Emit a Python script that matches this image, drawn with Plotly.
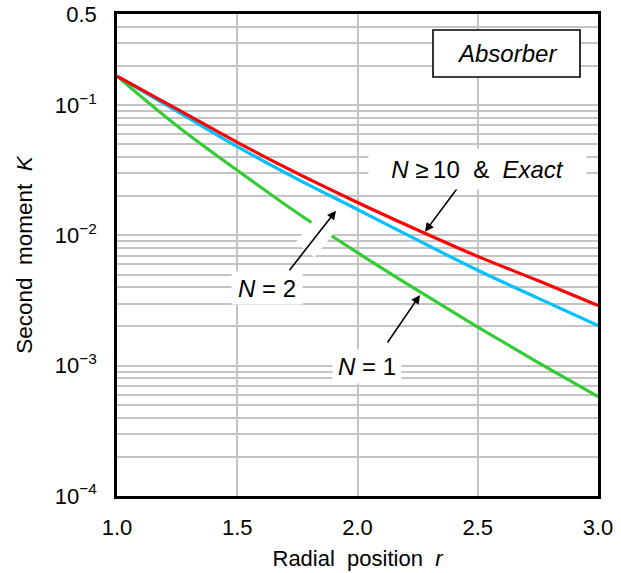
import math
import plotly.graph_objects as go

# ---- data ----
r_vals = [1.0, 1.25, 1.5, 1.75, 2.0, 2.25, 2.5, 2.75, 3.0]
K_exact = [0.1667, 0.0932, 0.0518, 0.0299, 0.0179, 0.0110, 0.0069, 0.0045, 0.0029]
K_n2 = [0.1667, 0.0895, 0.0480, 0.0270, 0.0158, 0.0092, 0.0054, 0.0033, 0.00203]
K_n1 = [0.1667, 0.0692, 0.0316, 0.01485, 0.00737, 0.00378, 0.00198, 0.00106, 0.00058]

x_ticks = [1.0, 1.5, 2.0, 2.5, 3.0]
x_ticktext = ["1.0", "1.5", "2.0", "2.5", "3.0"]
y_major = {1e-4: "10<sup>\u22124</sup>", 1e-3: "10<sup>\u22123</sup>",
           1e-2: "10<sup>\u22122</sup>", 1e-1: "10<sup>\u22121</sup>", 0.5: "0.5"}

FONT = "Liberation Sans, Arial, Helvetica, sans-serif"
FS = 22
FA = 24  # annotation font size

# gridline values at every 1..9 x decade (up to 0.5)
y_tickvals, y_ticktext = [], []
for e in range(-4, 0):
    for m in range(1, 10):
        v = round(m * 10 ** e, 10)
        if v > 0.5 + 1e-12:
            continue
        y_tickvals.append(v)
        y_ticktext.append(y_major.get(v, ""))

# ---- layout geometry (pixels) ----
W, H = 621, 573
L, R, T, B = 117, 598, 14, 496
YTOP = math.log10(0.5)


def to_paper(xp, yp):
    return (xp - L) / (R - L), (B - yp) / (B - T)


def to_data(xp, yp):
    xd = 1.0 + (xp - L) / (R - L) * 2.0
    yd = -4.0 + (B - yp) / (B - T) * (YTOP + 4.0)
    return xd, yd


fig = go.Figure()
fig.add_trace(go.Scatter(x=r_vals, y=K_n1, mode="lines", line=dict(color="#33cc33", width=3.2, shape="spline")))
fig.add_trace(go.Scatter(x=r_vals, y=K_n2, mode="lines", line=dict(color="#00c0ff", width=3.2, shape="spline")))
fig.add_trace(go.Scatter(x=r_vals, y=K_exact, mode="lines", line=dict(color="#ff0000", width=3.2, shape="spline")))

grid = "#c4c4c4"
fig.update_layout(
    width=W, height=H,
    margin=dict(l=L, r=W - R, t=T, b=H - B, autoexpand=False),
    plot_bgcolor="white", paper_bgcolor="white",
    showlegend=False,
    font=dict(family=FONT, size=FS, color="black"),
    xaxis=dict(range=[1, 3], tickvals=x_ticks, ticktext=x_ticktext,
               showgrid=True, gridcolor=grid, gridwidth=1.6, zeroline=False,
               showline=True, linecolor="black", linewidth=2.5, mirror=True,
               ticks="", ticklabelstandoff=10,
               title=dict(text="Radial\u00a0\u00a0position\u00a0\u00a0<i>r</i>", font=dict(size=FS), standoff=12)),
    yaxis=dict(type="log", range=[-4, YTOP], tickvals=y_tickvals, ticktext=y_ticktext,
               showgrid=True, gridcolor=grid, gridwidth=1.6, zeroline=False,
               showline=True, linecolor="black", linewidth=2.5, mirror=True,
               ticks="", ticklabelstandoff=13,
               title=dict(text="Second\u00a0\u00a0moment\u00a0\u00a0<i>K</i>", font=dict(size=FS + 0.5), standoff=16)),
)

# white halo where the N = 2 arrow crosses the N = 1 curve
hx0, hy0 = to_paper(305.3, 250)
hx1, hy1 = to_paper(328.7, 220)
fig.add_shape(type="line", xref="paper", yref="paper", x0=hx0, y0=hy0, x1=hx1, y1=hy1,
              line=dict(color="white", width=24), layer="above")

# Absorber box
bx0, by0 = to_paper(433, 77)
bx1, by1 = to_paper(580, 30)
fig.add_shape(type="rect", xref="paper", yref="paper", x0=bx0, y0=by0, x1=bx1, y1=by1,
              line=dict(color="black", width=1.6), fillcolor="white", layer="above")
ax_, ay_ = to_paper(506.5, 53.5)
fig.add_annotation(xref="paper", yref="paper", x=ax_, y=ay_, text="<i>Absorber</i>",
                   xanchor="center", yanchor="middle", showarrow=False, font=dict(size=FA))

# arrows (tip on curve, tail at label)
arrows = [((425, 231.7), (459, 186)),
          ((336, 210.7), (288.3, 271.7)),
          ((420, 295), (386.5, 344))]
for (tx, ty), (sx, sy) in arrows:
    xd, yd = to_data(tx, ty)
    fig.add_annotation(x=xd, y=yd, xref="x", yref="y", text="", showarrow=True,
                       ax=sx - tx, ay=sy - ty, arrowhead=2, arrowsize=1.1, arrowwidth=1.6,
                       arrowcolor="black", standoff=0, startstandoff=0)

# labels with white background
labels = [("<i>N</i> \u2265\u200910\u00a0\u00a0&\u00a0\u00a0<i>Exact</i>", (477, 168.5), 217, 40),
          ("<i>N</i> = 2", (266.5, 287.5), 70, 32),
          ("<i>N</i> = 1", (366.5, 366.5), 68, 33)]
for txt, (cx, cy), w, h in labels:
    px_, py_ = to_paper(cx, cy)
    fig.add_annotation(xref="paper", yref="paper", x=px_, y=py_, text=txt, showarrow=False,
                       xanchor="center", yanchor="middle",
                       bgcolor="white", width=w, height=h, borderpad=0, font=dict(size=FA))

fig.write_html("out.html", config={"displayModeBar": False},
               post_script="document.body.style.margin='0';document.body.style.overflow='hidden';")
